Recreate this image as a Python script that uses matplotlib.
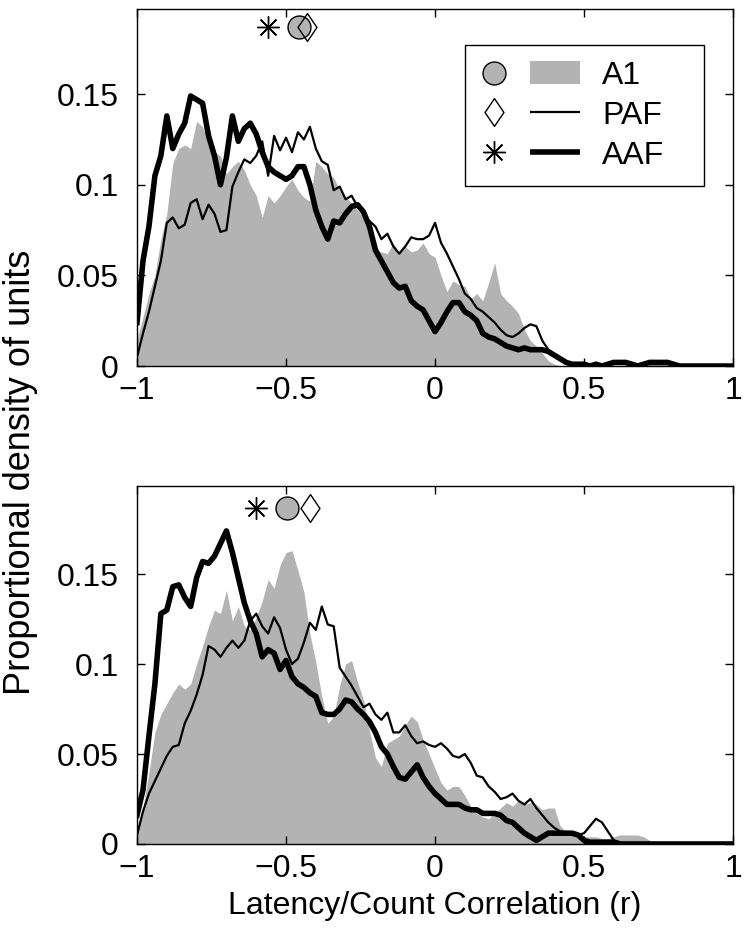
import numpy as np
import matplotlib
matplotlib.use("Agg")
import matplotlib.pyplot as plt
from matplotlib.lines import Line2D
from matplotlib.patches import Patch, Rectangle
from matplotlib.path import Path
from matplotlib.legend_handler import HandlerBase

plt.rcParams['font.family'] = ['Liberation Sans', 'DejaVu Sans']

# correlation grid, step 0.02 from -1 to 1
r = np.linspace(-1, 1, 101)

# ---- top panel ----
top_a1 = [
    0.015, 0.027, 0.040, 0.050, 0.070, 0.084, 0.112, 0.120, 0.122, 0.120,
    0.135, 0.132, 0.124, 0.118, 0.116, 0.106, 0.110, 0.113, 0.108, 0.100,
    0.094, 0.082, 0.094, 0.090, 0.094, 0.099, 0.103, 0.097, 0.093, 0.091,
    0.113, 0.110, 0.106, 0.104, 0.097, 0.093, 0.090, 0.086, 0.082, 0.078,
    0.064, 0.063, 0.062, 0.068, 0.062, 0.066, 0.063, 0.064, 0.068, 0.062,
    0.060, 0.050, 0.041, 0.047, 0.045, 0.044, 0.037, 0.040, 0.036, 0.046,
    0.057, 0.040, 0.036, 0.033, 0.029, 0.020, 0.014, 0.011, 0.007, 0.003,
    0.001, 0, 0, 0, 0, 0, 0, 0, 0, 0,
    0, 0, 0, 0, 0, 0, 0, 0, 0, 0,
    0, 0, 0, 0, 0, 0, 0, 0, 0, 0,
    0]
top_paf = [
    0.005, 0.018, 0.030, 0.044, 0.058, 0.079, 0.082, 0.076, 0.078, 0.090,
    0.092, 0.081, 0.089, 0.084, 0.074, 0.075, 0.099, 0.107, 0.114, 0.112,
    0.116, 0.124, 0.105, 0.127, 0.119, 0.126, 0.118, 0.129, 0.125, 0.132,
    0.120, 0.113, 0.111, 0.097, 0.099, 0.092, 0.094, 0.088, 0.084, 0.080,
    0.077, 0.070, 0.073, 0.066, 0.062, 0.066, 0.071, 0.070, 0.070, 0.072,
    0.079, 0.068, 0.062, 0.055, 0.048, 0.040, 0.037, 0.032, 0.030, 0.027,
    0.024, 0.020, 0.017, 0.016, 0.018, 0.021, 0.023, 0.022, 0.014, 0.009,
    0.006, 0.004, 0.002, 0.001, 0.001, 0.001, 0.001, 0.000, 0.000, 0.001,
    0.001, 0.002, 0.001, 0.001, 0.000, 0.001, 0.001, 0.001, 0.001, 0.001,
    0.001, 0, 0, 0, 0, 0, 0, 0, 0, 0,
    0]
top_aaf = [
    0.024, 0.058, 0.077, 0.105, 0.116, 0.138, 0.120, 0.128, 0.134, 0.149,
    0.147, 0.145, 0.127, 0.116, 0.100, 0.115, 0.138, 0.124, 0.131, 0.134,
    0.128, 0.118, 0.110, 0.107, 0.105, 0.103, 0.105, 0.110, 0.110, 0.100,
    0.086, 0.077, 0.070, 0.080, 0.079, 0.084, 0.088, 0.089, 0.085, 0.077,
    0.064, 0.058, 0.052, 0.046, 0.043, 0.044, 0.036, 0.033, 0.031, 0.025,
    0.019, 0.024, 0.030, 0.035, 0.035, 0.030, 0.028, 0.025, 0.018, 0.016,
    0.015, 0.013, 0.011, 0.010, 0.009, 0.010, 0.009, 0.009, 0.009, 0.008,
    0.006, 0.004, 0.002, 0.001, 0.001, 0.001, 0.000, 0.001, 0.000, 0.001,
    0.002, 0.002, 0.002, 0.001, 0.000, 0.001, 0.002, 0.002, 0.002, 0.002,
    0.001, 0, 0, 0, 0, 0, 0, 0, 0, 0,
    0]
# medians shown above the curves (AAF, A1, PAF)
top_med = [-0.56, -0.455, -0.43]

# ---- bottom panel ----
bot_a1 = [
    0.006, 0.020, 0.040, 0.062, 0.072, 0.078, 0.084, 0.089, 0.086, 0.089,
    0.100, 0.110, 0.121, 0.130, 0.128, 0.141, 0.124, 0.132, 0.121, 0.119,
    0.126, 0.135, 0.147, 0.142, 0.155, 0.162, 0.163, 0.152, 0.140, 0.117,
    0.101, 0.082, 0.067, 0.071, 0.088, 0.100, 0.102, 0.090, 0.080, 0.063,
    0.048, 0.043, 0.056, 0.058, 0.060, 0.066, 0.071, 0.068, 0.058, 0.050,
    0.042, 0.034, 0.030, 0.032, 0.032, 0.027, 0.021, 0.017, 0.015, 0.014,
    0.017, 0.020, 0.023, 0.021, 0.024, 0.022, 0.023, 0.022, 0.019, 0.020,
    0.020, 0.010, 0.007, 0.005, 0.004, 0.004, 0.004, 0.004, 0.003, 0.003,
    0.004, 0.005, 0.005, 0.005, 0.005, 0.004, 0.002, 0, 0, 0,
    0, 0, 0, 0, 0, 0, 0, 0, 0, 0,
    0]
bot_paf = [
    0.005, 0.018, 0.028, 0.035, 0.042, 0.049, 0.054, 0.055, 0.067, 0.074,
    0.083, 0.094, 0.110, 0.108, 0.104, 0.109, 0.113, 0.109, 0.113, 0.124,
    0.128, 0.121, 0.117, 0.126, 0.120, 0.108, 0.100, 0.103, 0.112, 0.123,
    0.119, 0.132, 0.122, 0.121, 0.098, 0.093, 0.088, 0.082, 0.076, 0.078,
    0.072, 0.069, 0.073, 0.062, 0.062, 0.066, 0.060, 0.056, 0.057, 0.055,
    0.054, 0.056, 0.053, 0.049, 0.048, 0.050, 0.045, 0.038, 0.037, 0.032,
    0.029, 0.025, 0.026, 0.028, 0.024, 0.022, 0.025, 0.020, 0.016, 0.012,
    0.009, 0.007, 0.006, 0.005, 0.005, 0.006, 0.010, 0.014, 0.012, 0.007,
    0.002, 0.001, 0, 0, 0, 0, 0, 0, 0, 0,
    0, 0, 0, 0, 0, 0, 0, 0, 0, 0,
    0]
bot_aaf = [
    0.016, 0.030, 0.060, 0.089, 0.128, 0.130, 0.143, 0.144, 0.137, 0.132,
    0.148, 0.157, 0.156, 0.160, 0.167, 0.174, 0.162, 0.148, 0.134, 0.124,
    0.117, 0.104, 0.108, 0.106, 0.097, 0.102, 0.093, 0.089, 0.087, 0.084,
    0.082, 0.073, 0.072, 0.072, 0.075, 0.080, 0.079, 0.075, 0.072, 0.068,
    0.062, 0.054, 0.050, 0.043, 0.037, 0.036, 0.040, 0.044, 0.037, 0.032,
    0.028, 0.025, 0.022, 0.022, 0.022, 0.020, 0.019, 0.019, 0.017, 0.017,
    0.017, 0.016, 0.013, 0.012, 0.009, 0.006, 0.004, 0.002, 0.004, 0.006,
    0.006, 0.006, 0.006, 0.006, 0.005, 0.002, 0.001, 0.001, 0.001, 0.001,
    0.001, 0, 0, 0, 0, 0, 0, 0, 0, 0,
    0, 0, 0, 0, 0, 0, 0, 0, 0, 0,
    0]
bot_med = [-0.60, -0.497, -0.42]

med_y = 0.187
labels = ['A1', 'PAF', 'AAF']
xticks = [-1, -0.5, 0, 0.5, 1]
xticklabels = ['\u22121', '\u22120.5', '0', '0.5', '1']
yticks = [0, 0.05, 0.1, 0.15]
yticklabels = ['0', '0.05', '0.1', '0.15']

GRAY = '#b3b3b3'
FS = 23
diamond = Path([(0, 1), (0.68, 0), (0, -1), (-0.68, 0), (0, 1)],
               [Path.MOVETO, Path.LINETO, Path.LINETO, Path.LINETO, Path.CLOSEPOLY])
circ_kw = dict(marker='o', markersize=16.5, markerfacecolor=GRAY,
               markeredgecolor='k', markeredgewidth=1.0, linestyle='none')
diam_kw = dict(marker=diamond, markersize=20, markerfacecolor='none',
               markeredgecolor='k', markeredgewidth=1.0, linestyle='none')
star_kw = dict(marker=(8, 2, 0), markersize=16, markeredgecolor='k',
               markeredgewidth=1.0, linestyle='none')


class RowHandler(HandlerBase):
    # marker on the left, line / patch on the right, like the MATLAB legend
    def create_artists(self, legend, orig_handle, xdescent, ydescent,
                       width, height, fontsize, trans):
        mk, st = orig_handle
        yc = height / 2 - ydescent
        x0 = -xdescent
        m = Line2D([x0 + 0.14 * width], [yc], linestyle='none',
                   marker=mk.get_marker(), markersize=mk.get_markersize(),
                   markerfacecolor=mk.get_markerfacecolor(),
                   markeredgecolor=mk.get_markeredgecolor(),
                   markeredgewidth=mk.get_markeredgewidth(), transform=trans)
        if isinstance(st, Patch):
            a = Rectangle((x0 + 0.5 * width, -ydescent), 0.5 * width, height,
                          facecolor=st.get_facecolor(), edgecolor='none',
                          transform=trans)
        else:
            a = Line2D([x0 + 0.5 * width, x0 + width], [yc, yc],
                       color=st.get_color(), linewidth=st.get_linewidth(),
                       solid_capstyle='butt', transform=trans)
        return [m, a]


def panel(ax, a1, paf, aaf, med, ytop):
    ax.fill_between(r, 0, a1, color=GRAY, linewidth=0)
    ax.plot(r, aaf, color='k', linewidth=4.0)
    ax.plot(r, paf, color='k', linewidth=1.6)
    ax.plot([med[0]], [med_y], clip_on=False, **star_kw)
    ax.plot([med[1]], [med_y], clip_on=False, **circ_kw)
    ax.plot([med[2]], [med_y], clip_on=False, **diam_kw)
    ax.set_xlim(-1, 1)
    ax.set_ylim(0, ytop)
    ax.set_xticks(xticks)
    ax.set_xticklabels(xticklabels)
    ax.set_yticks(yticks)
    ax.set_yticklabels(yticklabels)
    ax.tick_params(direction='in', top=True, right=True, length=6, width=1,
                   labelsize=FS)
    ax.tick_params(axis='x', pad=7)
    ax.tick_params(axis='y', pad=13)
    for s in ax.spines.values():
        s.set_linewidth(1.0)


fig = plt.figure(figsize=(7.5, 9.39), dpi=100)
ax1 = fig.add_axes([0.1827, 0.6102, 0.7947, 0.3802])
ax2 = fig.add_axes([0.1827, 0.1012, 0.7947, 0.3813])

panel(ax1, top_a1, top_paf, top_aaf, top_med, 0.197)
panel(ax2, bot_a1, bot_paf, bot_aaf, bot_med, 0.199)

h_rows = [
    (Line2D([], [], **circ_kw), Patch(facecolor=GRAY)),
    (Line2D([], [], **diam_kw), Line2D([], [], color='k', linewidth=1.6)),
    (Line2D([], [], **star_kw), Line2D([], [], color='k', linewidth=4.0)),
]
leg = ax1.legend(h_rows, labels, handler_map={tuple: RowHandler()},
                 loc='upper left', bbox_to_anchor=(0.550, 0.499, 0.401, 0.400),
                 mode='expand', borderaxespad=0, fontsize=FS,
                 handlelength=3.1, handleheight=0.7, handletextpad=0.7,
                 labelspacing=0.31, borderpad=0.49, fancybox=False,
                 framealpha=1, edgecolor='k')
leg.get_frame().set_linewidth(1.0)

ax2.set_xlabel('Latency/Count Correlation (r)', fontsize=FS, labelpad=5)
fig.text(0.027, 0.497, 'Proportional density of units', rotation=90,
         ha='center', va='center', fontsize=26)

fig.savefig('out.png', dpi=100)
